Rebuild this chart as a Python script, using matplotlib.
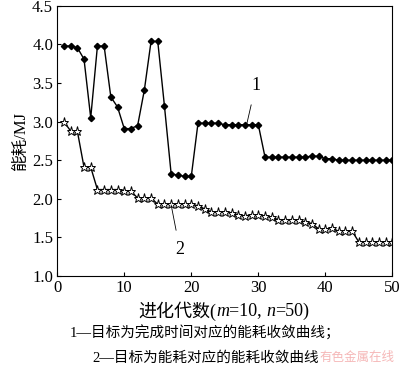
import matplotlib
matplotlib.use('Agg')
import matplotlib.pyplot as plt

plt.rcParams['font.family'] = ['Liberation Serif', 'Noto Sans CJK SC']

# 进化代数
generations = list(range(1, 51))

# 曲线1: 目标为完成时间
energy_time = [3.98, 3.98, 3.96, 3.81, 3.05, 3.98, 3.98, 3.32, 3.19, 2.91,
               2.91, 2.95, 3.41, 4.04, 4.04, 3.20, 2.32, 2.31, 2.29, 2.29,
               2.98, 2.98, 2.98, 2.98, 2.96, 2.96, 2.96, 2.96, 2.96, 2.96,
               2.54, 2.54, 2.54, 2.54, 2.54, 2.54, 2.54, 2.555, 2.55, 2.52,
               2.52, 2.50, 2.50, 2.50, 2.50, 2.50, 2.50, 2.50, 2.50, 2.50]

# 曲线2: 目标为能耗
energy_energy = [3.00, 2.88, 2.88, 2.41, 2.41, 2.12, 2.12, 2.12, 2.12, 2.10,
                 2.10, 2.01, 2.01, 2.01, 1.93, 1.93, 1.93, 1.93, 1.93, 1.93,
                 1.91, 1.87, 1.83, 1.83, 1.83, 1.82, 1.79, 1.78, 1.79, 1.79,
                 1.78, 1.76, 1.73, 1.73, 1.73, 1.72, 1.70, 1.68, 1.61, 1.61,
                 1.62, 1.58, 1.58, 1.58, 1.44, 1.44, 1.44, 1.44, 1.44, 1.44]

xticks = [0, 10, 20, 30, 40, 50]
yticks = [1.0, 1.5, 2.0, 2.5, 3.0, 3.5, 4.0, 4.5]

# x label pieces: (text, style)
xlabel_parts = [('进化代数(', 'normal'), ('m', 'italic'), ('=10, ', 'normal'),
                ('n', 'italic'), ('=50)', 'normal')]

fig = plt.figure(figsize=(4.0, 3.69), dpi=100)
ax = fig.add_axes([0.143, 0.252, 0.838, 0.732])

ax.plot(generations, energy_time, color='black', lw=1.0, marker='D', ms=3.2,
        mfc='black', mec='black')
ax.plot(generations, energy_energy, color='black', lw=1.0, marker='*', ms=6.5,
        mfc='white', mec='black', mew=0.7)

ax.set_xlim(0, 50)
ax.set_ylim(1.0, 4.5)
ax.set_xticks(xticks)
ax.set_yticks(yticks)
ax.set_yticklabels(['%.1f' % v for v in yticks])
ax.tick_params(direction='in', length=3, labelsize=12, width=0.8, pad=3)
for s in ax.spines.values():
    s.set_linewidth(0.8)

ax.set_ylabel('能耗/MJ', fontsize=12, labelpad=2)

# curve labels
ax.annotate('1', xy=(28.2, 2.94), xytext=(29.6, 3.47), fontsize=13,
            ha='center', va='center',
            arrowprops=dict(arrowstyle='-', lw=0.6, color='black', shrinkB=0, shrinkA=6))
ax.annotate('2', xy=(17.0, 1.92), xytext=(18.3, 1.34), fontsize=13,
            ha='center', va='center',
            arrowprops=dict(arrowstyle='-', lw=0.6, color='black', shrinkB=0, shrinkA=6))

# x label built piece by piece so italic m, n sit next to CJK text
fig.canvas.draw()
renderer = fig.canvas.get_renderer()
W = fig.bbox.width
pieces = []
total = 0
for txt, st in xlabel_parts:
    t = fig.text(0, 1 - 311 / 369, txt, fontsize=13, style=st, ha='left', va='center')
    w = t.get_window_extent(renderer).width
    pieces.append((t, w))
    total += w
x0 = 224 - total / 2
for t, w in pieces:
    t.set_x(x0 / W)
    x0 += w

fig.text(0.175, 1 - 333 / 369, '1—目标为完成时间对应的能耗收敛曲线；', fontsize=10.5,
         ha='left', va='center')
fig.text(0.23, 1 - 358 / 369, '2—目标为能耗对应的能耗收敛曲线', fontsize=10.5,
         ha='left', va='center')
fig.text(0.985, 1 - 358 / 369, '有色金属在线', fontsize=9, color='#f3a5a5',
         ha='right', va='center', alpha=0.8)

fig.savefig('out.png', dpi=100)
